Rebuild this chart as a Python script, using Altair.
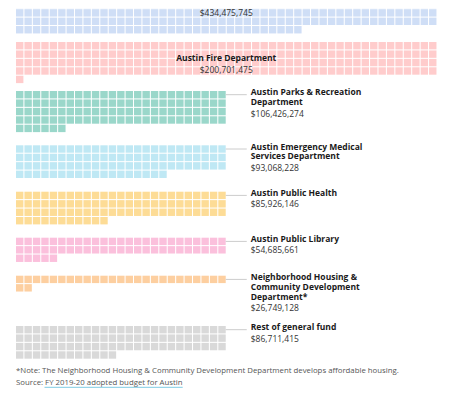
import altair as alt
import pandas as pd

# ---- data ----
departments = [
    "Austin Police Department",
    "Austin Fire Department",
    "Austin Parks & Recreation Department",
    "Austin Emergency Medical Services Department",
    "Austin Public Health",
    "Austin Public Library",
    "Neighborhood Housing & Community Development Department*",
    "Rest of general fund",
]
budgets = [434475745, 200701475, 106426274, 93068228, 85926146, 54685661, 26749128, 86711415]
label_lines = [
    ["Austin Police Department"],
    ["Austin Fire Department"],
    ["Austin Parks & Recreation", "Department"],
    ["Austin Emergency Medical", "Services Department"],
    ["Austin Public Health"],
    ["Austin Public Library"],
    ["Neighborhood Housing &", "Community Development", "Department*"],
    ["Rest of general fund"],
]
colors = ["#cfdef6", "#ffcccc", "#9ad7ca", "#bfe8f4", "#fddc96", "#fbc0dc", "#fdcfa0", "#d9d9d9"]
note_text = "*Note: The Neighborhood Housing & Community Development Department develops affordable housing."
source_text = "Source: FY 2019-20 adopted budget for Austin"
dollars_per_square = 1_000_000

# ---- layout ----
per_row = [50, 50, 25, 25, 25, 25, 25, 25]
block_top = [-49.4, 34.0, 83.0, 137.3, 183.7, 229.7, 267.7, 318.0]
W, H = 434, 380
X0, PITCH, SIZE = 8.0, 8.43, 7.4
FONT = "Open Sans"
FS = 8.5

squares = []
texts = []
leaders = []
for name, val, lines, col, cols, top in zip(departments, budgets, label_lines, colors, per_row, block_top):
    n = round(val / dollars_per_square)
    for i in range(n):
        c, r = i % cols, i // cols
        x = X0 + c * PITCH
        y = top + r * PITCH
        squares.append(dict(dept=name, x=x, x2=x + SIZE, y=y, y2=y + SIZE))
    value_str = "${:,}".format(val)
    if cols == 50:
        full_rows = n // cols
        cy = top + full_rows * PITCH / 2
        cx = X0 + cols * PITCH / 2 - 0.5
        # keep texts inside the visible view (the top block is scrolled off)
        if cy - 1.2 >= 5:
            texts.append(dict(t=lines[0], x=cx, y=cy - 1.2, w="bold", a="center"))
        texts.append(dict(t=value_str, x=cx, y=max(cy + 11, 4.5), w="normal", a="center"))
    else:
        ly = top + SIZE / 2
        gx = X0 + cols * PITCH - 1
        leaders.append(dict(x=gx, x2=gx + 21, y=ly))
        yy = ly - 2.5
        for k, ln in enumerate(lines):
            texts.append(dict(t=ln, x=gx + 25, y=yy + k * 9.8, w="bold", a="left"))
        texts.append(dict(t=value_str, x=gx + 25, y=yy + (len(lines) - 1) * 9.8 + 11.5, w="normal", a="left"))

sq_df = pd.DataFrame(squares)
tx_df = pd.DataFrame(texts)
ld_df = pd.DataFrame(leaders)

xs = alt.Scale(domain=[0, W], nice=False, zero=False)
ys = alt.Scale(domain=[0, H], nice=False, zero=False, reverse=True)

rects = alt.Chart(sq_df).mark_rect(clip=True).encode(
    x=alt.X("x:Q", scale=xs, axis=None),
    x2="x2",
    y=alt.Y("y:Q", scale=ys, axis=None),
    y2="y2",
    color=alt.Color("dept:N", scale=alt.Scale(domain=departments, range=colors), legend=None),
)

lead = alt.Chart(ld_df).mark_rule(color="#cccccc", strokeWidth=1).encode(
    x=alt.X("x:Q", scale=xs), x2="x2", y=alt.Y("y:Q", scale=ys)
)


def text_layer(weight, align, color):
    sub = tx_df[(tx_df.w == weight) & (tx_df.a == align)]
    return alt.Chart(sub).mark_text(
        font=FONT, fontSize=FS, fontWeight=weight, color=color, align=align, baseline="middle"
    ).encode(x=alt.X("x:Q", scale=xs), y=alt.Y("y:Q", scale=ys), text="t:N")


bold_l = text_layer("bold", "left", "#1a1a1a")
bold_c = text_layer("bold", "center", "#1a1a1a")
val_l = text_layer("normal", "left", "#333333")
val_c = text_layer("normal", "center", "#333333")

foot_df = pd.DataFrame({"t": [note_text, source_text], "x": [X0, X0], "y": [362.7, 375.0]})
foot = alt.Chart(foot_df).mark_text(
    font=FONT, fontSize=7.8, color="#555555", align="left", baseline="middle"
).encode(x=alt.X("x:Q", scale=xs), y=alt.Y("y:Q", scale=ys), text="t:N")

underline = alt.Chart(pd.DataFrame({"x": [36.5], "x2": [174.7], "y": [379.3]})).mark_rule(
    color="#7fcbe3", strokeWidth=1
).encode(x=alt.X("x:Q", scale=xs), x2="x2", y=alt.Y("y:Q", scale=ys))

chart = alt.layer(rects, lead, bold_l, bold_c, val_l, val_c, foot, underline).properties(
    width=W, height=H, padding=0, autosize=alt.AutoSizeParams(type="none")
).configure_view(strokeWidth=0)

chart.save("out.html", embed_options={"renderer": "svg", "actions": False})
